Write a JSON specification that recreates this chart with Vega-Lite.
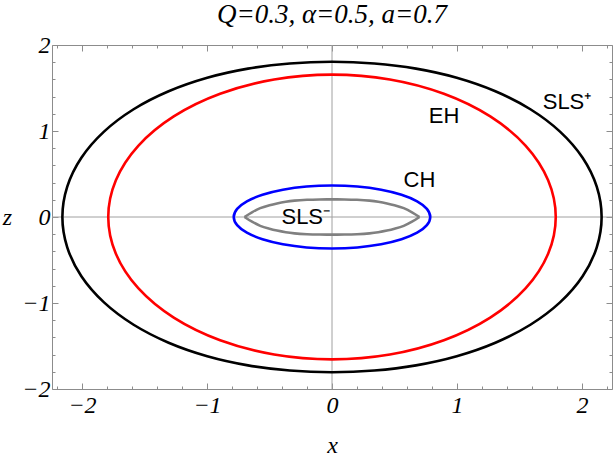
{
  "$schema": "https://vega.github.io/schema/vega-lite/v6.json",
  "width": 560,
  "height": 344,
  "autosize": {"type": "none"},
  "padding": {"left": 52, "top": 45, "right": 3, "bottom": 69},
  "background": "white",
  "title": {"text": "Q=0.3, α=0.5, a=0.7", "font": "Liberation Serif", "fontStyle": "italic", "fontWeight": "normal", "fontSize": 27, "color": "black", "anchor": "middle", "offset": 4},
  "config": {
    "view": {"stroke": null},
    "axis": {
      "grid": false,
      "domainColor": "#8c8c8c",
      "tickColor": "#8c8c8c",
      "labelFont": "Liberation Serif",
      "labelFontStyle": "italic",
      "labelFontSize": 24,
      "labelColor": "black",
      "labelFlush": false,
      "labelOverlap": false,
      "titleFont": "Liberation Serif",
      "titleFontStyle": "italic",
      "titleFontWeight": "normal",
      "titleFontSize": 24,
      "titleColor": "black"
    }
  },
  "datasets": {
    "curves": [
      {"c": "SLS+", "i": 0, "x": 2.157, "z": 0},
      {"c": "SLS+", "i": 1, "x": 2.118, "z": 0.353},
      {"c": "SLS+", "i": 2, "x": 2.005, "z": 0.689},
      {"c": "SLS+", "i": 3, "x": 1.824, "z": 0.993},
      {"c": "SLS+", "i": 4, "x": 1.587, "z": 1.253},
      {"c": "SLS+", "i": 5, "x": 1.307, "z": 1.462},
      {"c": "SLS+", "i": 6, "x": 0.998, "z": 1.619},
      {"c": "SLS+", "i": 7, "x": 0.672, "z": 1.725},
      {"c": "SLS+", "i": 8, "x": 0.338, "z": 1.785},
      {"c": "SLS+", "i": 9, "x": 0, "z": 1.805},
      {"c": "SLS+", "i": 10, "x": -0.338, "z": 1.785},
      {"c": "SLS+", "i": 11, "x": -0.672, "z": 1.725},
      {"c": "SLS+", "i": 12, "x": -0.998, "z": 1.619},
      {"c": "SLS+", "i": 13, "x": -1.307, "z": 1.462},
      {"c": "SLS+", "i": 14, "x": -1.587, "z": 1.253},
      {"c": "SLS+", "i": 15, "x": -1.824, "z": 0.993},
      {"c": "SLS+", "i": 16, "x": -2.005, "z": 0.689},
      {"c": "SLS+", "i": 17, "x": -2.118, "z": 0.353},
      {"c": "SLS+", "i": 18, "x": -2.157, "z": 0},
      {"c": "SLS+", "i": 19, "x": -2.118, "z": -0.353},
      {"c": "SLS+", "i": 20, "x": -2.005, "z": -0.689},
      {"c": "SLS+", "i": 21, "x": -1.824, "z": -0.993},
      {"c": "SLS+", "i": 22, "x": -1.587, "z": -1.253},
      {"c": "SLS+", "i": 23, "x": -1.307, "z": -1.462},
      {"c": "SLS+", "i": 24, "x": -0.998, "z": -1.619},
      {"c": "SLS+", "i": 25, "x": -0.672, "z": -1.725},
      {"c": "SLS+", "i": 26, "x": -0.338, "z": -1.785},
      {"c": "SLS+", "i": 27, "x": 0, "z": -1.805},
      {"c": "SLS+", "i": 28, "x": 0.338, "z": -1.785},
      {"c": "SLS+", "i": 29, "x": 0.672, "z": -1.725},
      {"c": "SLS+", "i": 30, "x": 0.998, "z": -1.619},
      {"c": "SLS+", "i": 31, "x": 1.307, "z": -1.462},
      {"c": "SLS+", "i": 32, "x": 1.587, "z": -1.253},
      {"c": "SLS+", "i": 33, "x": 1.824, "z": -0.993},
      {"c": "SLS+", "i": 34, "x": 2.005, "z": -0.689},
      {"c": "SLS+", "i": 35, "x": 2.118, "z": -0.353},
      {"c": "EH", "i": 0, "x": 1.79, "z": 0},
      {"c": "EH", "i": 1, "x": 1.729, "z": 0.428},
      {"c": "EH", "i": 2, "x": 1.55, "z": 0.828},
      {"c": "EH", "i": 3, "x": 1.266, "z": 1.17},
      {"c": "EH", "i": 4, "x": 0.895, "z": 1.433},
      {"c": "EH", "i": 5, "x": 0.463, "z": 1.599},
      {"c": "EH", "i": 6, "x": 0, "z": 1.655},
      {"c": "EH", "i": 7, "x": -0.463, "z": 1.599},
      {"c": "EH", "i": 8, "x": -0.895, "z": 1.433},
      {"c": "EH", "i": 9, "x": -1.266, "z": 1.17},
      {"c": "EH", "i": 10, "x": -1.55, "z": 0.828},
      {"c": "EH", "i": 11, "x": -1.729, "z": 0.428},
      {"c": "EH", "i": 12, "x": -1.79, "z": 0},
      {"c": "EH", "i": 13, "x": -1.729, "z": -0.428},
      {"c": "EH", "i": 14, "x": -1.55, "z": -0.828},
      {"c": "EH", "i": 15, "x": -1.266, "z": -1.17},
      {"c": "EH", "i": 16, "x": -0.895, "z": -1.433},
      {"c": "EH", "i": 17, "x": -0.463, "z": -1.599},
      {"c": "EH", "i": 18, "x": 0, "z": -1.655},
      {"c": "EH", "i": 19, "x": 0.463, "z": -1.599},
      {"c": "EH", "i": 20, "x": 0.895, "z": -1.433},
      {"c": "EH", "i": 21, "x": 1.266, "z": -1.17},
      {"c": "EH", "i": 22, "x": 1.55, "z": -0.828},
      {"c": "EH", "i": 23, "x": 1.729, "z": -0.428},
      {"c": "CH", "i": 0, "x": 0.786, "z": 0},
      {"c": "CH", "i": 1, "x": 0.759, "z": 0.095},
      {"c": "CH", "i": 2, "x": 0.681, "z": 0.183},
      {"c": "CH", "i": 3, "x": 0.556, "z": 0.259},
      {"c": "CH", "i": 4, "x": 0.393, "z": 0.317},
      {"c": "CH", "i": 5, "x": 0.203, "z": 0.354},
      {"c": "CH", "i": 6, "x": 0, "z": 0.366},
      {"c": "CH", "i": 7, "x": -0.203, "z": 0.354},
      {"c": "CH", "i": 8, "x": -0.393, "z": 0.317},
      {"c": "CH", "i": 9, "x": -0.556, "z": 0.259},
      {"c": "CH", "i": 10, "x": -0.681, "z": 0.183},
      {"c": "CH", "i": 11, "x": -0.759, "z": 0.095},
      {"c": "CH", "i": 12, "x": -0.786, "z": 0},
      {"c": "CH", "i": 13, "x": -0.759, "z": -0.095},
      {"c": "CH", "i": 14, "x": -0.681, "z": -0.183},
      {"c": "CH", "i": 15, "x": -0.556, "z": -0.259},
      {"c": "CH", "i": 16, "x": -0.393, "z": -0.317},
      {"c": "CH", "i": 17, "x": -0.203, "z": -0.354},
      {"c": "CH", "i": 18, "x": 0, "z": -0.366},
      {"c": "CH", "i": 19, "x": 0.203, "z": -0.354},
      {"c": "CH", "i": 20, "x": 0.393, "z": -0.317},
      {"c": "CH", "i": 21, "x": 0.556, "z": -0.259},
      {"c": "CH", "i": 22, "x": 0.681, "z": -0.183},
      {"c": "CH", "i": 23, "x": 0.759, "z": -0.095}
    ],
    "inner": [
      {"h": "up", "x": -0.7, "z": 0},
      {"h": "up", "x": -0.64, "z": 0.055},
      {"h": "up", "x": -0.574, "z": 0.103},
      {"h": "up", "x": -0.5, "z": 0.137},
      {"h": "up", "x": -0.44, "z": 0.158},
      {"h": "up", "x": -0.37, "z": 0.177},
      {"h": "up", "x": -0.3, "z": 0.19},
      {"h": "up", "x": -0.2, "z": 0.2},
      {"h": "up", "x": -0.1, "z": 0.204},
      {"h": "up", "x": 0, "z": 0.205},
      {"h": "up", "x": 0.1, "z": 0.204},
      {"h": "up", "x": 0.2, "z": 0.2},
      {"h": "up", "x": 0.3, "z": 0.19},
      {"h": "up", "x": 0.37, "z": 0.177},
      {"h": "up", "x": 0.44, "z": 0.158},
      {"h": "up", "x": 0.5, "z": 0.137},
      {"h": "up", "x": 0.574, "z": 0.103},
      {"h": "up", "x": 0.64, "z": 0.055},
      {"h": "up", "x": 0.7, "z": 0},
      {"h": "down", "x": -0.7, "z": 0},
      {"h": "down", "x": -0.64, "z": -0.055},
      {"h": "down", "x": -0.574, "z": -0.103},
      {"h": "down", "x": -0.5, "z": -0.137},
      {"h": "down", "x": -0.44, "z": -0.158},
      {"h": "down", "x": -0.37, "z": -0.177},
      {"h": "down", "x": -0.3, "z": -0.19},
      {"h": "down", "x": -0.2, "z": -0.2},
      {"h": "down", "x": -0.1, "z": -0.204},
      {"h": "down", "x": 0, "z": -0.205},
      {"h": "down", "x": 0.1, "z": -0.204},
      {"h": "down", "x": 0.2, "z": -0.2},
      {"h": "down", "x": 0.3, "z": -0.19},
      {"h": "down", "x": 0.37, "z": -0.177},
      {"h": "down", "x": 0.44, "z": -0.158},
      {"h": "down", "x": 0.5, "z": -0.137},
      {"h": "down", "x": 0.574, "z": -0.103},
      {"h": "down", "x": 0.64, "z": -0.055},
      {"h": "down", "x": 0.7, "z": 0}
    ],
    "labels": [
      {"t": "SLS⁺", "x": 1.88, "z": 1.34},
      {"t": "EH", "x": 0.896, "z": 1.18},
      {"t": "CH", "x": 0.7, "z": 0.43},
      {"t": "SLS⁻", "x": -0.21, "z": 0.0}
    ]
  },
  "resolve": {
    "scale": {"x": "independent", "y": "independent", "color": "independent"},
    "axis": {"x": "independent", "y": "independent"}
  },
  "layer": [
    {
      "data": {"values": [{"x": 0, "z1": -2, "z2": 2}]},
      "mark": {"type": "rule", "color": "#a0a0a0", "strokeWidth": 1},
      "encoding": {
        "x": {"field": "x", "type": "quantitative", "scale": {"domain": [-2.24, 2.24], "nice": false, "zero": false},
          "axis": {"orient": "top", "values": [-2.2, -2, -1.8, -1.6, -1.4, -1.2, -1, -0.8, -0.6, -0.4, -0.2, 0, 0.2, 0.4, 0.6, 0.8, 1, 1.2, 1.4, 1.6, 1.8, 2, 2.2], "labels": false, "title": null,
            "tickSize": {"condition": {"test": "abs(datum.value - round(datum.value)) < 0.001", "value": -6}, "value": -3}}},
        "y": {"field": "z1", "type": "quantitative", "scale": {"domain": [-2, 2], "nice": false, "zero": false},
          "axis": {"orient": "right", "values": [-2, -1.8, -1.6, -1.4, -1.2, -1, -0.8, -0.6, -0.4, -0.2, 0, 0.2, 0.4, 0.6, 0.8, 1, 1.2, 1.4, 1.6, 1.8, 2], "labels": false, "title": null,
            "tickSize": {"condition": {"test": "abs(datum.value - round(datum.value)) < 0.001", "value": -6}, "value": -3}}},
        "y2": {"field": "z2"}
      }
    },
    {
      "data": {"values": [{"z": 0, "x1": -2.24, "x2": 2.24}]},
      "mark": {"type": "rule", "color": "#a0a0a0", "strokeWidth": 1},
      "encoding": {
        "y": {"field": "z", "type": "quantitative", "scale": {"domain": [-2, 2], "nice": false, "zero": false}, "axis": null},
        "x": {"field": "x1", "type": "quantitative", "scale": {"domain": [-2.24, 2.24], "nice": false, "zero": false}, "axis": null},
        "x2": {"field": "x2"}
      }
    },
    {
      "data": {"name": "inner"},
      "mark": {"type": "line", "color": "#808080", "strokeWidth": 2.6, "interpolate": "monotone"},
      "encoding": {
        "x": {"field": "x", "type": "quantitative", "scale": {"domain": [-2.24, 2.24], "nice": false, "zero": false}, "axis": null},
        "y": {"field": "z", "type": "quantitative", "scale": {"domain": [-2, 2], "nice": false, "zero": false}, "axis": null},
        "detail": {"field": "h"},
        "order": {"field": "x", "type": "quantitative"}
      }
    },
    {
      "data": {"name": "curves"},
      "mark": {"type": "line", "strokeWidth": 2.6, "interpolate": "cardinal-closed"},
      "encoding": {
        "x": {"field": "x", "type": "quantitative", "scale": {"domain": [-2.24, 2.24], "nice": false, "zero": false},
          "axis": {"orient": "bottom", "values": [-2.2, -2, -1.8, -1.6, -1.4, -1.2, -1, -0.8, -0.6, -0.4, -0.2, 0, 0.2, 0.4, 0.6, 0.8, 1, 1.2, 1.4, 1.6, 1.8, 2, 2.2],
            "labelExpr": "abs(datum.value - round(datum.value)) < 0.001 ? format(round(datum.value), 'd') : ''",
            "tickSize": {"condition": {"test": "abs(datum.value - round(datum.value)) < 0.001", "value": -6}, "value": -3},
            "labelPadding": 10, "title": "x", "titleY": 56, "titleX": 280, "titleBaseline": "middle", "titleAnchor": "middle"}},
        "y": {"field": "z", "type": "quantitative", "scale": {"domain": [-2, 2], "nice": false, "zero": false},
          "axis": {"orient": "left", "values": [-2, -1.8, -1.6, -1.4, -1.2, -1, -0.8, -0.6, -0.4, -0.2, 0, 0.2, 0.4, 0.6, 0.8, 1, 1.2, 1.4, 1.6, 1.8, 2],
            "labelExpr": "abs(datum.value - round(datum.value)) < 0.001 ? format(round(datum.value), 'd') : ''",
            "tickSize": {"condition": {"test": "abs(datum.value - round(datum.value)) < 0.001", "value": -6}, "value": -3},
            "labelPadding": 8, "title": "z", "titleAngle": 0, "titleX": -45, "titleY": 172, "titleAlign": "center", "titleBaseline": "middle"}},
        "color": {"field": "c", "type": "nominal", "scale": {"domain": ["SLS+", "EH", "CH"], "range": ["#000000", "#ff0000", "#0000ff"]}, "legend": null},
        "detail": {"field": "c"},
        "order": {"field": "i", "type": "quantitative"}
      }
    },
    {
      "data": {"name": "labels"},
      "mark": {"type": "text", "font": "Liberation Sans", "fontSize": 22, "color": "black", "align": "center", "baseline": "middle"},
      "encoding": {
        "x": {"field": "x", "type": "quantitative", "scale": {"domain": [-2.24, 2.24], "nice": false, "zero": false}, "axis": null},
        "y": {"field": "z", "type": "quantitative", "scale": {"domain": [-2, 2], "nice": false, "zero": false}, "axis": null},
        "text": {"field": "t"}
      }
    }
  ]
}
